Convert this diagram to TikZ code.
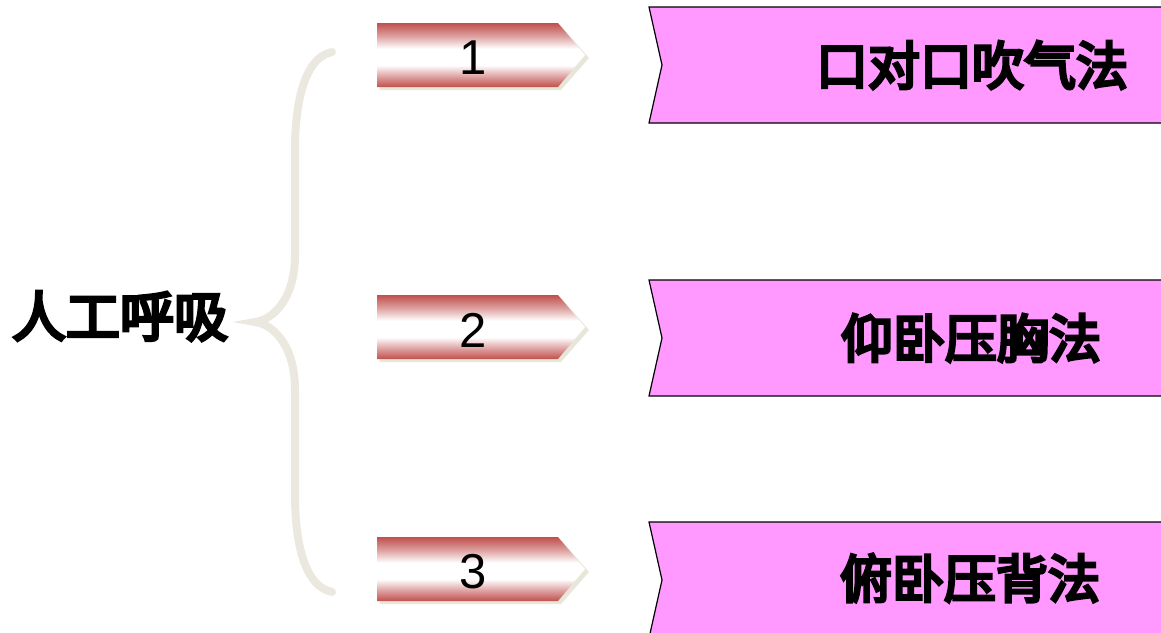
\documentclass[tikz,border=0pt]{standalone}
\usepackage{fontspec}
\setmainfont{Liberation Sans}
\newfontfamily\cjk[FakeBold=6]{Noto Sans CJK SC}
\definecolor{redC}{RGB}{192,80,77}
\definecolor{pinkC}{RGB}{255,153,255}
\definecolor{braceC}{RGB}{235,233,223}
\definecolor{shadowC}{RGB}{232,230,216}
\pgfdeclareverticalshading{redband}{100bp}{color(0bp)=(redC); color(25bp)=(redC); color(33bp)=(redC!55!white); color(42bp)=(white); color(55bp)=(white); color(65bp)=(redC!55!white); color(75bp)=(redC); color(100bp)=(redC)}
\begin{document}
\begin{tikzpicture}[x=1pt,y=-1pt,
  bracestyle/.style={draw=braceC, line width=8pt, line cap=round},
  arrowfill/.style={shading=redband, draw=none},
  arrowshadow/.style={fill=shadowC, draw=none},
  pinkbox/.style={fill=pinkC, draw=black, line width=1.2pt},
  numtext/.style={font=\fontsize{49}{49}\selectfont, inner sep=0pt},
  cjktext/.style={font=\cjk\fontsize{52}{52}\selectfont, inner sep=0pt},
]
\useasboundingbox (0,0) rectangle (1161,632);
\clip (0,0) rectangle (1161,632);
% brace
\draw[bracestyle] (332,52) .. controls (302,58) and (295,110) .. (295,150) -- (295,255)
  .. controls (295,300) and (272,320) .. (255,322)
  .. controls (272,324) and (295,344) .. (295,390) -- (295,495)
  .. controls (295,535) and (302,586) .. (332,592);
% arrows
\foreach \t in {23,295,537}{
  \fill[arrowshadow] (380,\t+3) -- (561,\t+3) -- (589,\t+35) -- (561,\t+67) -- (380,\t+67) -- cycle;
  \shade[arrowfill] (377,\t) -- (558,\t) -- (585,\t+32) -- (558,\t+64) -- (377,\t+64) -- cycle;
}
\node[numtext] (n1) at (473,58) {1};
\node[numtext] (n2) at (473,330) {2};
\node[numtext] (n3) at (473,572) {3};
% pink boxes
\foreach \t in {7,280,522}{
  \draw[pinkbox] (1175,\t) -- (649,\t) -- (662,\t+58) -- (649,\t+116) -- (1175,\t+116);
}
\node[cjktext] (b1) at (972,65) {口对口吹气法};
\node[cjktext] (b2) at (971,338) {仰卧压胸法};
\node[cjktext] (b3) at (970,578) {俯卧压背法};
\node[cjktext, font=\cjk\fontsize{54}{54}\selectfont] (main) at (120,316) {人工呼吸};
\end{tikzpicture}
\end{document}
